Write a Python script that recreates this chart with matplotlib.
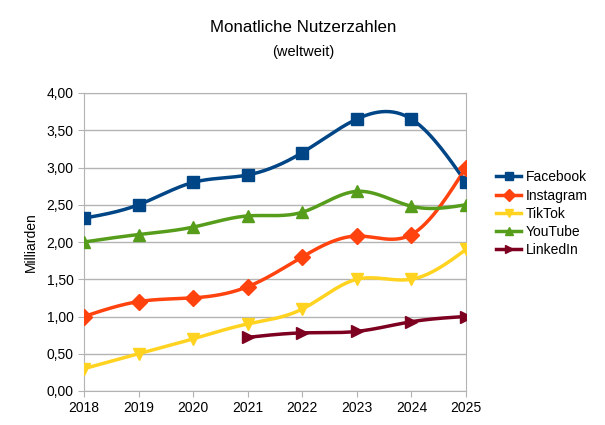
import matplotlib
matplotlib.use("Agg")
import matplotlib.pyplot as plt
import numpy as np

jahre = [2018, 2019, 2020, 2021, 2022, 2023, 2024, 2025]
facebook = [2.32, 2.50, 2.80, 2.90, 3.20, 3.65, 3.65, 2.80]
instagram = [1.00, 1.20, 1.25, 1.40, 1.80, 2.08, 2.10, 3.00]
tiktok = [0.30, 0.50, 0.70, 0.90, 1.10, 1.50, 1.50, 1.90]
youtube = [2.00, 2.10, 2.20, 2.35, 2.40, 2.68, 2.48, 2.50]
linkedin_jahre = [2021, 2022, 2023, 2024, 2025]
linkedin = [0.72, 0.78, 0.80, 0.93, 1.00]

serien = [
    ("Facebook", jahre, facebook, "#004586", "s"),
    ("Instagram", jahre, instagram, "#ff420e", "D"),
    ("TikTok", jahre, tiktok, "#ffd320", "v"),
    ("YouTube", jahre, youtube, "#579d1c", "^"),
    ("LinkedIn", linkedin_jahre, linkedin, "#7e0021", ">"),
]


def spline(x, y, n=200):
    # natuerlicher kubischer Spline nur fuer die Darstellung der Linie
    x = np.asarray(x, float)
    y = np.asarray(y, float)
    k = len(x)
    h = np.diff(x)
    A = np.zeros((k, k))
    b = np.zeros(k)
    A[0, 0] = A[-1, -1] = 1
    for i in range(1, k - 1):
        A[i, i - 1] = h[i - 1]
        A[i, i] = 2 * (h[i - 1] + h[i])
        A[i, i + 1] = h[i]
        b[i] = 6 * ((y[i + 1] - y[i]) / h[i] - (y[i] - y[i - 1]) / h[i - 1])
    M = np.linalg.solve(A, b)
    xs = np.linspace(x[0], x[-1], n)
    idx = np.clip(np.searchsorted(x, xs) - 1, 0, k - 2)
    x0, x1 = x[idx], x[idx + 1]
    hh = x1 - x0
    a = (x1 - xs) / hh
    c = (xs - x0) / hh
    ys = a * y[idx] + c * y[idx + 1] + ((a ** 3 - a) * M[idx] + (c ** 3 - c) * M[idx + 1]) * hh ** 2 / 6
    return xs, ys


plt.rcParams['font.family'] = ['Liberation Sans', 'DejaVu Sans']
fig = plt.figure(figsize=(6.05, 4.25), dpi=100)
ax = fig.add_axes([84 / 605, 1 - 391 / 425, (466 - 84) / 605, (391 - 93) / 425])

for name, xw, yw, farbe, marker in serien:
    xs, ys = spline(xw, yw)
    ax.plot(xs, ys, color=farbe, lw=2.5, zorder=3)
    ax.plot(xw, yw, ls="none", marker=marker, color=farbe, ms=8, zorder=4)
    ax.plot([], [], color=farbe, lw=2.5, marker=marker, ms=6, label=name)

ax.set_xlim(2018, 2025)
ax.set_ylim(0, 4)
ax.set_xticks(jahre)
yt = np.arange(0, 4.01, 0.5)
ax.set_yticks(yt)
ax.set_yticklabels([f"{v:.2f}".replace(".", ",") for v in yt])
ax.grid(axis="y", color="#b3b3b3", lw=1)
ax.set_axisbelow(True)
for s in ax.spines.values():
    s.set_color("#b3b3b3")
ax.tick_params(colors="#b3b3b3", labelcolor="black", labelsize=10, length=4)
ax.set_ylabel("Milliarden", fontsize=10, labelpad=6)

fig.text(303 / 605, 1 - 27 / 425, "Monatliche Nutzerzahlen", ha="center", va="center", fontsize=12.2)
fig.text(303 / 605, 1 - 52 / 425, "(weltweit)", ha="center", va="center", fontsize=10.5)

ax.legend(loc="center left", bbox_to_anchor=(1.065, 0.595), frameon=False, fontsize=10,
          handlelength=1.8, handletextpad=0.3, labelspacing=0.3, borderaxespad=0)

fig.savefig("out.png", dpi=100)
